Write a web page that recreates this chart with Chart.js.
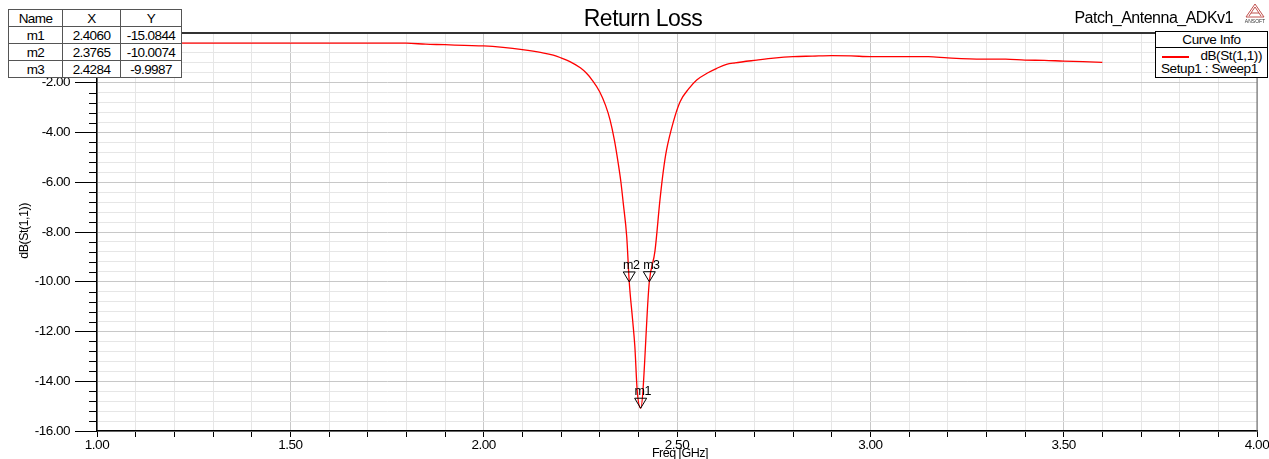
<!DOCTYPE html>
<html><head><meta charset="utf-8">
<script src="https://cdn.jsdelivr.net/npm/chart.js@4/dist/chart.umd.min.js"></script>
<style>
html,body{margin:0;padding:0;background:#fff;}
#wrap{position:relative;width:1269px;height:459px;overflow:hidden;font-family:"Liberation Sans",Arial,sans-serif;color:#000;}
canvas{position:absolute;left:0;top:0;}
#title{position:absolute;left:543px;width:200px;top:5px;text-align:center;font-size:23px;letter-spacing:-0.5px;line-height:26px;}
#design{position:absolute;left:1040px;width:193px;top:9px;text-align:right;font-size:16px;letter-spacing:-0.5px;line-height:18px;}
#mk{position:absolute;left:8px;top:9px;border-collapse:collapse;background:#fff;font-size:13.5px;letter-spacing:-0.6px;}
#mk td,#mk th{border:1px solid #555;padding:0;text-align:center;font-weight:normal;height:16px;line-height:15px;}
#legend{position:absolute;left:1155px;top:31px;width:111px;height:45px;border:1px solid #000;background:#fff;font-size:13.5px;letter-spacing:-0.4px;}
#legend .hd{height:15px;line-height:15px;text-align:center;border-bottom:1px solid #000;}
#legend .r1{position:relative;height:14px;line-height:14px;}
#legend .sw{position:absolute;left:6px;top:8px;width:27px;height:2px;background:#ff0000;}
#legend .r1 span{position:absolute;right:5px;top:1px;}
#legend .r2{padding-left:5px;height:13px;line-height:14px;}
#logo{position:absolute;left:1243px;top:2px;}
</style></head>
<body><div id="wrap">
<canvas id="c" width="1269" height="459"></canvas>
<div id="title">Return Loss</div>
<div id="design">Patch_Antenna_ADKv1</div>
<table id="mk"></table>
<div id="legend"><div class="hd">Curve Info</div><div class="r1"><div class="sw"></div><span>dB(St(1,1))</span></div><div class="r2">Setup1 : Sweep1</div></div>
<svg id="logo" width="24" height="22" viewBox="0 0 24 22">
<polygon points="12,2 21,15 3,15" fill="none" stroke="#c0504d" stroke-width="1"/>
<line x1="12" y1="5" x2="6" y2="14" stroke="#c0504d" stroke-width="1"/>
<line x1="12" y1="5" x2="18" y2="14" stroke="#c0504d" stroke-width="1"/>
<line x1="8" y1="11" x2="16" y2="11" stroke="#c0504d" stroke-width="1"/>
<text x="12" y="20.5" font-size="5" text-anchor="middle" font-family="Liberation Sans" fill="#333">ANSOFT</text>
</svg>
</div>
<script>
// ---- data ----
const freqGHz = [1.00,1.10,1.20,1.30,1.40,1.50,1.60,1.70,1.80,1.85,1.90,1.95,2.00,2.05,2.10,2.15,2.18,2.20,2.223,2.25,2.266,2.28,2.30,2.315,2.327,2.338,2.348,2.355,2.361,2.37,2.3765,2.385,2.391,2.397,2.406,2.4284,2.443,2.456,2.465,2.473,2.49,2.508,2.53,2.551,2.58,2.603,2.628,2.65,2.706,2.75,2.80,2.85,2.90,2.95,3.00,3.10,3.15,3.20,3.29,3.35,3.40,3.45,3.50,3.55,3.60];
const s11dB   = [-0.41,-0.41,-0.41,-0.41,-0.41,-0.41,-0.41,-0.41,-0.41,-0.45,-0.47,-0.50,-0.52,-0.58,-0.67,-0.79,-0.89,-1.00,-1.15,-1.40,-1.62,-1.88,-2.36,-2.90,-3.50,-4.30,-5.24,-6.00,-6.84,-8.19,-10.0074,-11.5,-12.6,-14.36,-15.0844,-9.9987,-8.77,-6.70,-5.50,-4.70,-3.60,-2.76,-2.25,-1.89,-1.60,-1.42,-1.26,-1.20,-1.09,-1.01,-0.95,-0.93,-0.91,-0.92,-0.95,-0.95,-0.95,-1.00,-1.05,-1.05,-1.09,-1.10,-1.13,-1.15,-1.18];
const markerNames = ['m1','m2','m3'];
const markerFreq  = [2.4060, 2.3765, 2.4284];
const markerDB    = [-15.0844, -10.0074, -9.9987];
const markerFreqText = ['2.4060','2.3765','2.4284'];
const markerDBText   = ['-15.0844','-10.0074','-9.9987'];

// marker table
const tbl = document.getElementById('mk');
let h = '<tr><th style="width:53px">Name</th><th style="width:57px">X</th><th style="width:60px">Y</th></tr>';
for (let i = 0; i < markerNames.length; i++) {
  h += '<tr><td>' + markerNames[i] + '</td><td>' + markerFreqText[i] + '</td><td>' + markerDBText[i] + '</td></tr>';
}
tbl.innerHTML = h;

const isMult = (v, m) => Math.abs(v / m - Math.round(v / m)) < 1e-6;

const deco = {
  id: 'deco',
  beforeDraw(chart) { try { chart.ctx.letterSpacing = '-0.5px'; } catch (e) {} },
  afterDraw(chart) {
    const ctx = chart.ctx, a = chart.chartArea, xs = chart.scales.x, ys = chart.scales.y;
    ctx.save();
    // borders
    ctx.strokeStyle = '#333'; ctx.lineWidth = 2;
    ctx.beginPath(); ctx.moveTo(a.left, a.top); ctx.lineTo(a.right, a.top); ctx.stroke();
    ctx.strokeStyle = '#666'; ctx.lineWidth = 1;
    ctx.beginPath(); ctx.moveTo(a.right, a.top); ctx.lineTo(a.right, a.bottom); ctx.stroke();
    // y minor ticks
    ctx.strokeStyle = '#000'; ctx.lineWidth = 1;
    ys.ticks.forEach(t => {
      if (!isMult(t.value, 2)) {
        const y = Math.round(ys.getPixelForValue(t.value)) + 0.5;
        ctx.beginPath(); ctx.moveTo(a.left - 8, y); ctx.lineTo(a.left, y); ctx.stroke();
      }
    });
    // markers
    ctx.fillStyle = '#000'; ctx.strokeStyle = '#000'; ctx.lineWidth = 1;
    ctx.font = '12.5px "Liberation Sans", Arial, sans-serif';
    ctx.textAlign = 'center'; ctx.textBaseline = 'bottom';
    for (let i = 0; i < markerNames.length; i++) {
      const px = xs.getPixelForValue(markerFreq[i]);
      const py = ys.getPixelForValue(markerDB[i]);
      ctx.beginPath();
      ctx.moveTo(px, py); ctx.lineTo(px - 6, py - 10); ctx.lineTo(px + 6, py - 10); ctx.closePath();
      ctx.stroke();
      ctx.fillText(markerNames[i], px + 2, py - 10);
    }
    // axis titles
    ctx.font = '12.5px "Liberation Sans", Arial, sans-serif';
    ctx.textBaseline = 'middle';
    ctx.fillText('Freq [GHz]', 680, 454);
    ctx.translate(25, 231); ctx.rotate(-Math.PI / 2);
    ctx.fillText('dB(St(1,1))', 0, 0);
    ctx.restore();
  }
};

new Chart(document.getElementById('c'), {
  type: 'line',
  data: {
    datasets: [{
      data: freqGHz.map((f, i) => ({ x: f, y: s11dB[i] })),
      borderColor: '#ff0000', borderWidth: 1.3, pointRadius: 0,
      cubicInterpolationMode: 'monotone', fill: false
    }]
  },
  options: {
    responsive: false, animation: false, devicePixelRatio: 1,
    layout: { padding: { left: 0, top: 33, right: 12, bottom: 0 } },
    plugins: { legend: { display: false }, tooltip: { enabled: false }, title: { display: false } },
    scales: {
      x: {
        type: 'linear', min: 1, max: 4,
        afterFit(s) { s.height = 28; s.paddingLeft = 0; s.paddingRight = 0; },
        ticks: {
          stepSize: 0.1, autoSkip: false, maxRotation: 0, padding: 0, color: '#000',
          font: { family: '"Liberation Sans", Arial, sans-serif', size: 13.5 },
          callback: v => isMult(v, 0.5) ? v.toFixed(2) : ''
        },
        grid: {
          color: c => isMult(c.tick.value, 0.5) ? '#c8c8c8' : '#e6e6e6',
          lineWidth: 1, tickLength: 6, tickColor: '#000'
        },
        border: { display: true, color: '#000', width: 1.5 }
      },
      y: {
        type: 'linear', min: -16, max: 0,
        afterFit(s) { s.width = 97; s.paddingTop = 0; s.paddingBottom = 0; },
        ticks: {
          stepSize: 0.4, autoSkip: false, padding: 5, color: '#000',
          font: { family: '"Liberation Sans", Arial, sans-serif', size: 13.5 },
          callback: v => isMult(v, 2) ? v.toFixed(2) : ''
        },
        grid: {
          color: c => isMult(c.tick.value, 2) ? '#c8c8c8' : '#e6e6e6',
          lineWidth: 1, tickLength: 22,
          tickColor: c => isMult(c.tick.value, 2) ? '#000' : 'rgba(0,0,0,0)'
        },
        border: { display: true, color: '#000', width: 1.5 }
      }
    }
  },
  plugins: [deco]
});
</script>
</body></html>
